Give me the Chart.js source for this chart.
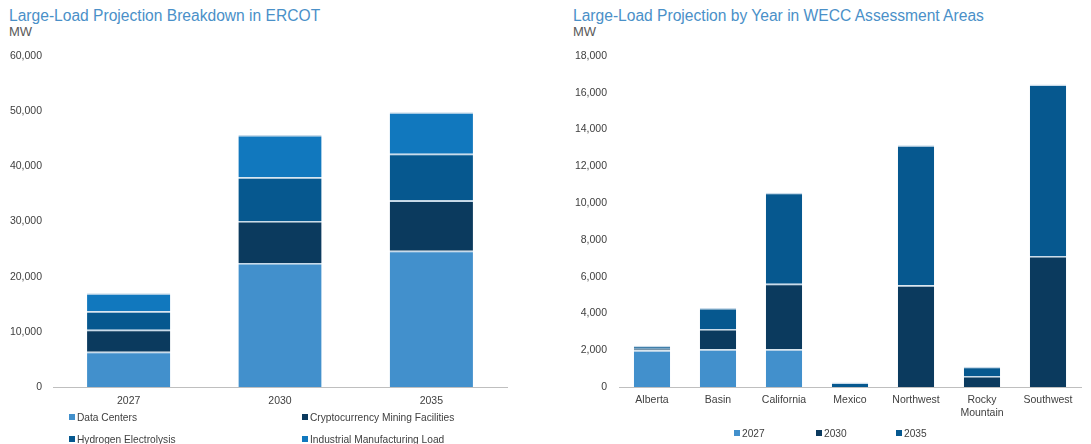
<!DOCTYPE html>
<html>
<head>
<meta charset="utf-8">
<script src="https://cdn.jsdelivr.net/npm/chart.js@4.4.1/dist/chart.umd.min.js"></script>
<style>
  html, body { margin: 0; padding: 0; background: #fff; overflow: hidden; }
  body { width: 1091px; height: 444px; position: relative; font-family: "Liberation Sans", Arial, sans-serif; }
  .title { position: absolute; top: 7px; font-size: 15.6px; color: #4a90c8; white-space: nowrap; }
  .unit  { position: absolute; top: 24px; font-size: 13px; color: #595959; }
  .box   { position: absolute; top: 0; height: 444px; }
  .legend-item { position: absolute; font-size: 10.2px; color: #404040; white-space: nowrap; line-height: 12px; }
  .legend-item i { display: inline-block; width: 6px; height: 6px; margin-right: 2px; vertical-align: 1px; }
</style>
</head>
<body>
  <div class="title" style="left:9px">Large-Load Projection Breakdown in ERCOT</div>
  <div class="unit" style="left:9px">MW</div>
  <div class="title" style="left:573px">Large-Load Projection by Year in WECC Assessment Areas</div>
  <div class="unit" style="left:573px">MW</div>

  <div class="box" style="left:0; width:540px"><canvas id="ercot"></canvas></div>
  <div class="box" style="left:560px; width:531px"><canvas id="wecc"></canvas></div>

  <div id="legendErcot"></div>
  <div id="legendWecc"></div>

<script>
// ERCOT (left)
const ercotYears = ['2027', '2030', '2035'];
const dataCenters = [6400, 22500, 24700];
const cryptoMining = [4000, 7600, 9100];
const hydrogen = [3350, 7900, 8500];
const industrial = [3250, 7700, 7500];
const ercotTicks = [0, 10000, 20000, 30000, 40000, 50000, 60000];

// WECC (right)
const weccAreas = ['Alberta', 'Basin', 'California', 'Mexico', 'Northwest', ['Rocky', 'Mountain'], 'Southwest'];
const wecc2027 = [2000, 2050, 2050, 0, 0, 0, 0];
const wecc2030 = [80, 1100, 3570, 0, 5540, 600, 7130];
const wecc2035 = [170, 1150, 4950, 250, 7610, 500, 9320];
const weccTicks = [0, 2000, 4000, 6000, 8000, 10000, 12000, 14000, 16000, 18000];

const C_LIGHT = '#4290cc';
const C_NAVY = '#0b3a5e';
const C_MID = '#06588f';
const C_BRIGHT = '#1178be';
const SEP = '#c9dbea';

Chart.defaults.font.family = '"Liberation Sans", Arial, sans-serif';
Chart.defaults.font.size = 10.5;
Chart.defaults.color = '#404040';
Chart.defaults.animation = false;

function ds(label, data, color) {
  return {
    label, data,
    backgroundColor: color,
    borderColor: SEP,
    borderWidth: { top: 1.5, left: 0, right: 0, bottom: 0 },
    borderSkipped: false,
    categoryPercentage: 1,
    barPercentage: 0.55
  };
}

function makeChart(id, labels, datasets, ticks, yWidth, padRight, yPad, xPad) {
  return new Chart(document.getElementById(id), {
    type: 'bar',
    data: { labels, datasets },
    options: {
      responsive: true,
      maintainAspectRatio: false,
      layout: { padding: { top: 56, right: padRight, bottom: 0, left: 0 } },
      plugins: { legend: { display: false }, tooltip: { enabled: false } },
      scales: {
        x: {
          stacked: true,
          grid: { display: false, drawTicks: false },
          border: { display: true, color: '#bfbfbf', width: 1 },
          ticks: { padding: xPad, maxRotation: 0, autoSkip: false },
          afterFit(s) { s.height = 57; }
        },
        y: {
          stacked: true,
          min: 0,
          max: ticks[ticks.length - 1],
          grid: { display: false, drawTicks: false },
          border: { display: false },
          afterBuildTicks(s) { s.ticks = ticks.map(v => ({ value: v })); },
          ticks: {
            padding: yPad,
            callback: v => Number(v).toLocaleString('en-US')
          },
          afterFit(s) { s.width = yWidth; }
        }
      }
    }
  });
}

makeChart('ercot', ercotYears, [
  ds('Data Centers', dataCenters, C_LIGHT),
  ds('Cryptocurrency Mining Facilities', cryptoMining, C_NAVY),
  ds('Hydrogen Electrolysis', hydrogen, C_MID),
  ds('Industrial Manufacturing Load', industrial, C_BRIGHT)
], ercotTicks, 53, 33, 11, 8);

makeChart('wecc', weccAreas, [
  ds('2027', wecc2027, C_LIGHT),
  ds('2030', wecc2030, C_NAVY),
  ds('2035', wecc2035, C_MID)
], weccTicks, 59, 10, 12, 7);

// HTML legends
function legend(el, items) {
  items.forEach(([text, color, x, y]) => {
    const d = document.createElement('div');
    d.className = 'legend-item';
    d.style.left = x + 'px';
    d.style.top = (y - 6) + 'px';
    d.innerHTML = '<i style="background:' + color + '"></i>' + text;
    el.appendChild(d);
  });
}
legend(document.getElementById('legendErcot'), [
  ['Data Centers', C_LIGHT, 69, 418],
  ['Cryptocurrency Mining Facilities', C_NAVY, 302, 418],
  ['Hydrogen Electrolysis', C_MID, 69, 440],
  ['Industrial Manufacturing Load', C_BRIGHT, 302, 440]
]);
legend(document.getElementById('legendWecc'), [
  ['2027', C_LIGHT, 734, 434],
  ['2030', C_NAVY, 816, 434],
  ['2035', C_MID, 896, 434]
]);
</script>
</body>
</html>
